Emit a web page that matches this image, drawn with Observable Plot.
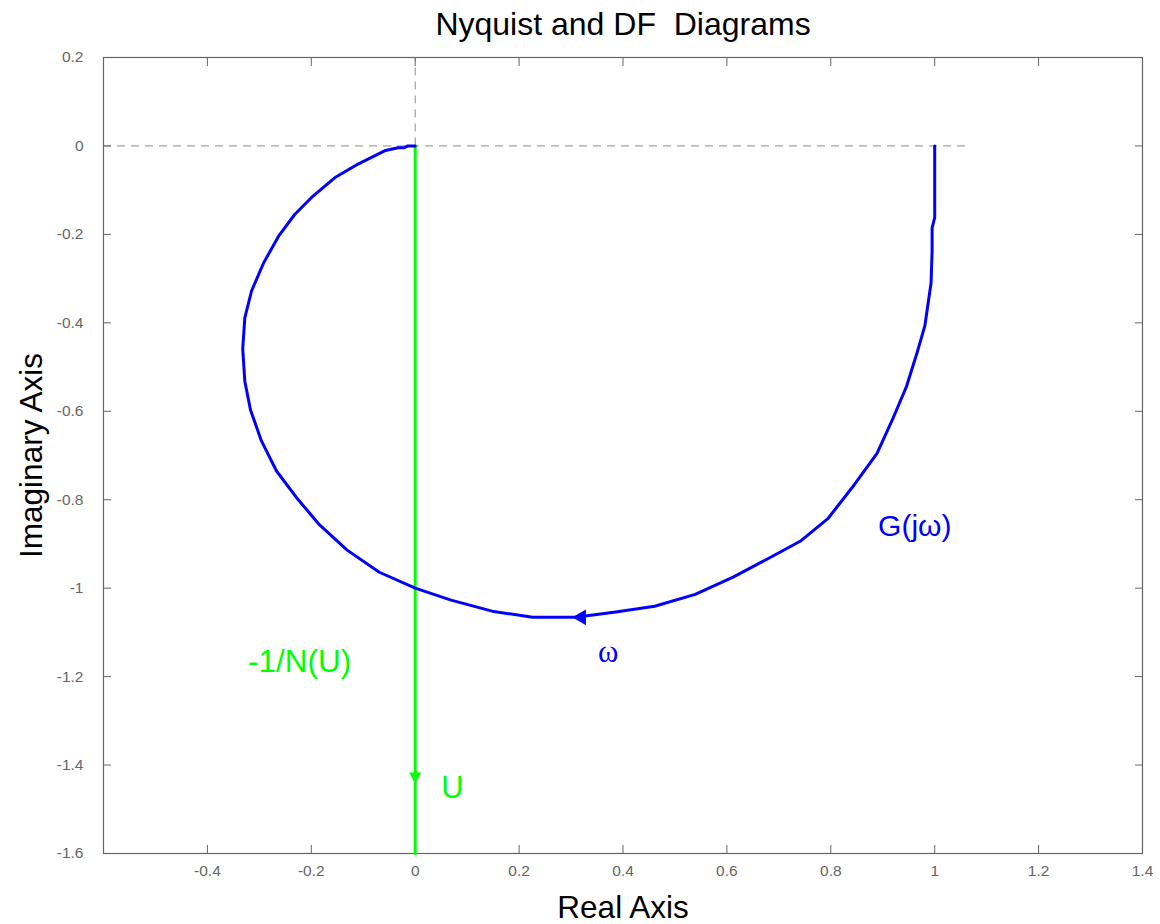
<!DOCTYPE html>
<html>
<head>
<meta charset="utf-8">
<script src="https://cdn.jsdelivr.net/npm/d3@7"></script>
<script src="https://cdn.jsdelivr.net/npm/@observablehq/plot@0.6"></script>
<style>
  body { margin: 0; background: #fff; }
  #chart svg { display: block; }
</style>
</head>
<body>
<div id="chart"></div>
<script>
// Nyquist curve G(jω): real and imaginary parts
const gRe = [1.0, 1.0, 0.995, 0.995, 0.993, 0.981, 0.967, 0.946, 0.919, 0.889, 0.846, 0.795, 0.741, 0.678, 0.612, 0.539, 0.461, 0.386, 0.309, 0.226, 0.148, 0.069, 0.0, -0.069, -0.131, -0.184, -0.228, -0.267, -0.296, -0.317, -0.328, -0.332, -0.328, -0.315, -0.292, -0.263, -0.232, -0.200, -0.155, -0.110, -0.059, -0.033, -0.021, -0.014, 0.0];
const gIm = [0.0, -0.162, -0.185, -0.237, -0.31, -0.407, -0.464, -0.543, -0.618, -0.695, -0.765, -0.842, -0.894, -0.934, -0.975, -1.014, -1.041, -1.054, -1.066, -1.066, -1.052, -1.027, -1.0, -0.964, -0.914, -0.857, -0.796, -0.735, -0.667, -0.597, -0.532, -0.459, -0.389, -0.328, -0.265, -0.204, -0.155, -0.117, -0.072, -0.041, -0.011, -0.004, -0.004, 0.0, 0.0];
// Describing function locus -1/N(U)
const dfRe = [0, 0];
const dfIm = [0, -1.6];
// Ticks
const xTicks = [-0.4, -0.2, 0, 0.2, 0.4, 0.6, 0.8, 1, 1.2, 1.4];
const yTicks = [0.2, 0, -0.2, -0.4, -0.6, -0.8, -1, -1.2, -1.4, -1.6];
const xDomain = [-0.6, 1.4];
const yDomain = [-1.6, 0.2];
// Texts
const titleText = "Nyquist and DF\u00a0\u00a0Diagrams";
const xLabel = "Real Axis";
const yLabel = "Imaginary Axis";

const gData = gRe.map((x, i) => ({x, y: gIm[i]}));
const dfData = dfRe.map((x, i) => ({x, y: dfIm[i]}));

const FONT = "Liberation Sans, Arial, Helvetica, sans-serif";
const BLUE = "#0000ff", GREEN = "#00ff00", AX = "#666666";
const fmt = d => String(Math.round(d * 10) / 10);

const chart = Plot.plot({
  width: 1160,
  height: 924,
  marginTop: 57,
  marginRight: 18,
  marginBottom: 71,
  marginLeft: 103,
  style: {fontFamily: FONT, background: "#fff"},
  x: {domain: xDomain},
  y: {domain: yDomain},
  marks: [
    // dashed reference lines
    Plot.ruleY([0], {x1: -0.6, x2: 1.063, stroke: "#8c8c8c", strokeDasharray: "8,6", strokeWidth: 1}),
    Plot.ruleX([0], {y1: 0, y2: 0.2, stroke: "#8c8c8c", strokeDasharray: "8,6", strokeWidth: 1}),
    // axes
    Plot.axisX({anchor: "bottom", ticks: xTicks, tickSize: -8, tickPadding: 19, tickFormat: fmt, fontSize: 15.5, stroke: AX, fill: AX, label: null, fontFamily: FONT}),
    Plot.axisX({anchor: "top", ticks: xTicks, tickSize: -8, tickFormat: () => "", stroke: AX, label: null}),
    Plot.axisY({anchor: "left", ticks: yTicks, tickSize: -8, tickPadding: 28, tickFormat: fmt, fontSize: 15.5, stroke: AX, fill: AX, label: null, fontFamily: FONT}),
    Plot.axisY({anchor: "right", ticks: yTicks, tickSize: -8, tickFormat: () => "", stroke: AX, label: null}),
    Plot.frame({stroke: AX, strokeWidth: 1.2}),
    // curves
    Plot.line(dfData, {x: "x", y: "y", stroke: GREEN, strokeWidth: 3}),
    Plot.line(gData, {x: "x", y: "y", stroke: BLUE, strokeWidth: 3, strokeLinejoin: "round"}),
    // arrows
    Plot.dot([{x: 0.32, y: -1.066}], {x: "x", y: "y", symbol: "triangle", rotate: -90, r: 5.8, fill: BLUE, stroke: null}),
    Plot.dot([{x: 0, y: -1.425}], {x: "x", y: "y", symbol: "triangle", rotate: 180, r: 4.6, fill: GREEN, stroke: null}),
    // annotations
    Plot.text([{x: 0.891, y: -0.86}], {x: "x", y: "y", text: () => "G(jω)", fill: BLUE, fontSize: 30, textAnchor: "start", lineAnchor: "middle", fontFamily: FONT}),
    Plot.text([{x: 0.352, y: -1.145}], {x: "x", y: "y", text: () => "ω", fill: BLUE, fontSize: 31, textAnchor: "start", lineAnchor: "middle", fontFamily: "Liberation Serif, Times New Roman, serif"}),
    Plot.text([{x: -0.322, y: -1.167}], {x: "x", y: "y", text: () => "-1/N(U)", fill: GREEN, fontSize: 31.5, textAnchor: "start", lineAnchor: "middle", fontFamily: FONT}),
    Plot.text([{x: 0.05, y: -1.452}], {x: "x", y: "y", text: () => "U", fill: GREEN, fontSize: 31, textAnchor: "start", lineAnchor: "middle", fontFamily: FONT}),
    // title and axis labels
    Plot.text([titleText], {frameAnchor: "top", dy: -33, fontSize: 32, fill: "#000", textAnchor: "middle", lineAnchor: "middle", fontFamily: FONT}),
    Plot.text([xLabel], {frameAnchor: "bottom", dy: 54, fontSize: 31.5, fill: "#000", textAnchor: "middle", lineAnchor: "middle", fontFamily: FONT}),
    Plot.text([yLabel], {frameAnchor: "left", dx: -72, rotate: -90, fontSize: 31.5, fill: "#000", textAnchor: "middle", lineAnchor: "middle", fontFamily: FONT})
  ]
});
document.getElementById("chart").append(chart);
</script>
</body>
</html>
